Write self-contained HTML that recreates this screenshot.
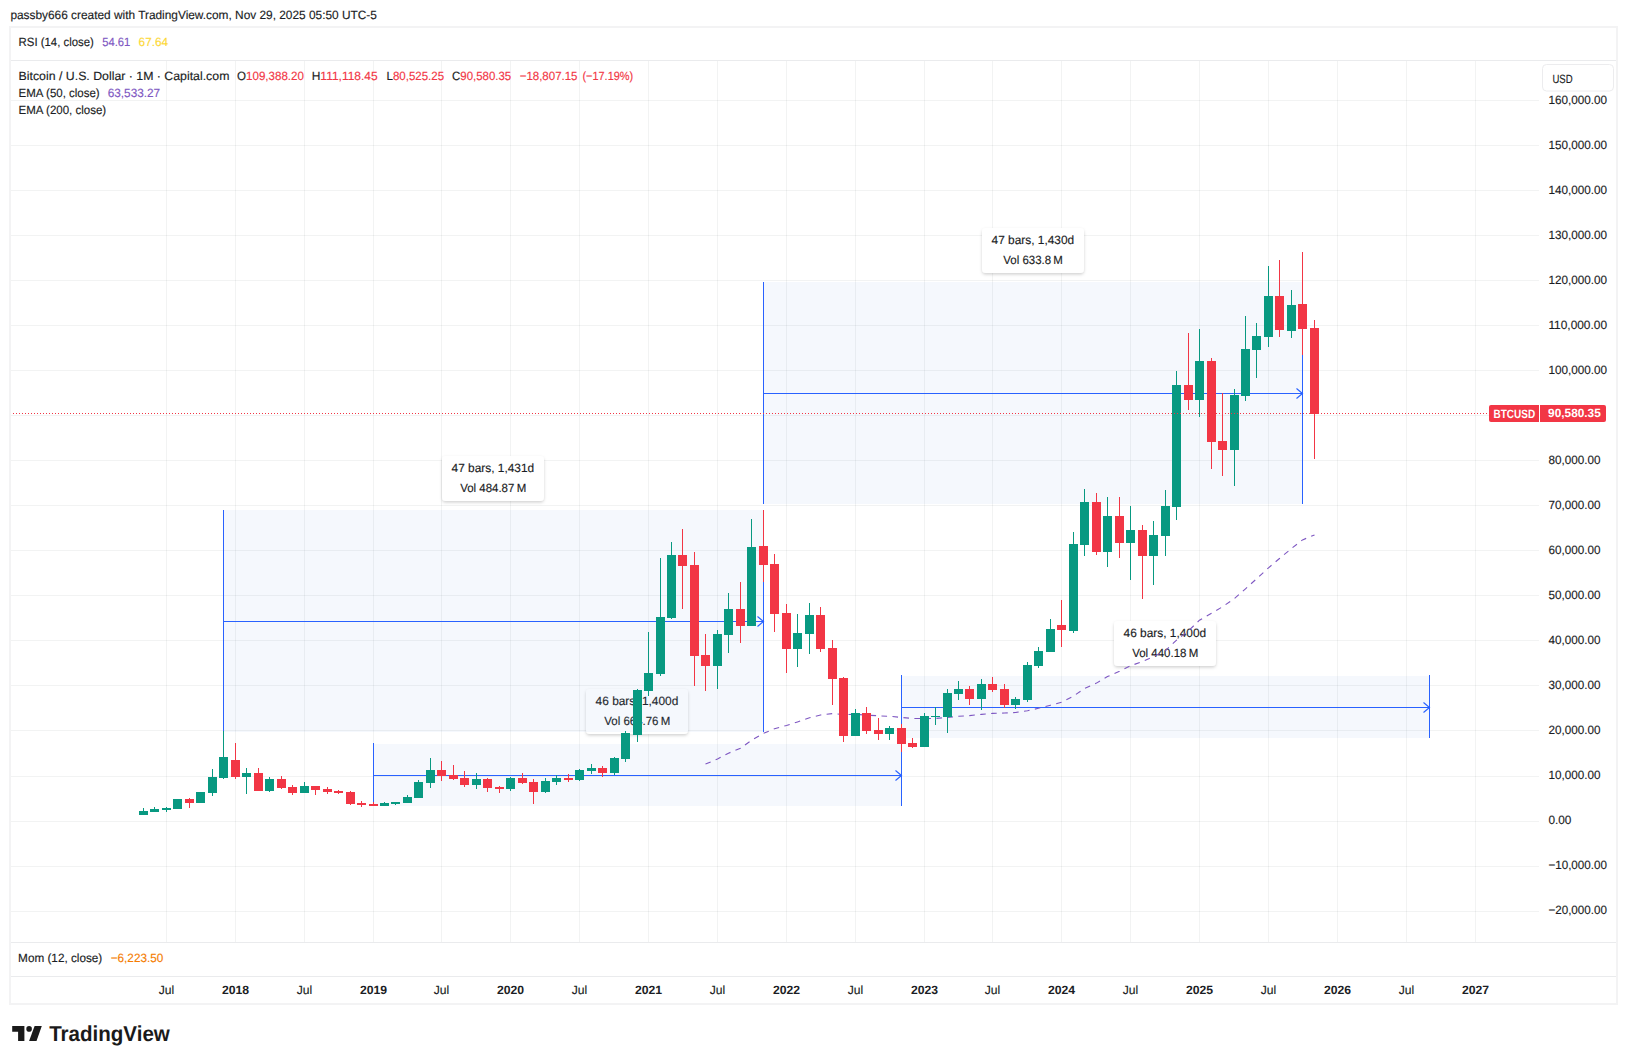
<!DOCTYPE html>
<html lang="en"><head><meta charset="utf-8"><title>BTCUSD chart</title>
<style>html,body{margin:0;padding:0;background:#fff}body{width:1627px;height:1064px;overflow:hidden}svg{display:block}</style>
</head><body>
<svg width="1627" height="1064" viewBox="0 0 1627 1064" font-family="'Liberation Sans', sans-serif" font-size="12" fill="#1b1d24" shape-rendering="crispEdges" text-rendering="geometricPrecision">
<defs><filter id="sh" x="-10%" y="-20%" width="120%" height="150%"><feDropShadow dx="0" dy="1.5" stdDeviation="1.6" flood-color="#000" flood-opacity="0.18"/></filter></defs>
<rect width="1627" height="1064" fill="#fff"/>
<path d="M166.5 61V942 M235.5 61V942 M304.5 61V942 M373.5 61V942 M441.5 61V942 M510.5 61V942 M579.5 61V942 M648.5 61V942 M717.5 61V942 M786.5 61V942 M855.5 61V942 M924.5 61V942 M992.5 61V942 M1061.5 61V942 M1130.5 61V942 M1199.5 61V942 M1268.5 61V942 M1337.5 61V942 M1406.5 61V942 M1475.5 61V942" stroke="#2a2e39" stroke-opacity="0.06" stroke-width="1" fill="none"/>
<path d="M11 911.5H1539 M11 866.5H1539 M11 821.5H1539 M11 776.5H1539 M11 730.5H1539 M11 685.5H1539 M11 640.5H1539 M11 595.5H1539 M11 550.5H1539 M11 505.5H1539 M11 460.5H1539 M11 415.5H1539 M11 370.5H1539 M11 325.5H1539 M11 280.5H1539 M11 235.5H1539 M11 190.5H1539 M11 145.5H1539 M11 100.5H1539" stroke="#2a2e39" stroke-opacity="0.06" stroke-width="1" fill="none"/>
<g>
<rect x="373" y="744" width="529" height="62" fill="rgb(100,150,230)" fill-opacity="0.065"/>
<path d="M373.5 743V806M901.5 743V806M373.5 775.5H901.5" stroke="#2962ff" stroke-width="1" fill="none"/>
<path d="M895.5 770.5L901.5 775.5L895.5 780.5" stroke="#2962ff" stroke-width="1.15" fill="none" shape-rendering="auto"/>
<rect x="586" y="689" width="102" height="45" rx="4" fill="#fff" filter="url(#sh)" shape-rendering="auto"/>
<text x="595.6" y="705" textLength="82.69999999999993" lengthAdjust="spacingAndGlyphs" stroke="#1b1d24" stroke-width="0.15" >46 bars, 1,400d</text>
<text x="604.3" y="724.7" textLength="66.0" lengthAdjust="spacingAndGlyphs" stroke="#1b1d24" stroke-width="0.15" >Vol 664.76 M</text>
</g>
<g>
<rect x="223" y="510" width="541" height="222" fill="rgb(100,150,230)" fill-opacity="0.065"/>
<path d="M223.5 510V732M763.5 510V732M223.5 621.5H763.5" stroke="#2962ff" stroke-width="1" fill="none"/>
<path d="M757.5 616.5L763.5 621.5L757.5 626.5" stroke="#2962ff" stroke-width="1.15" fill="none" shape-rendering="auto"/>
<rect x="442" y="456" width="102" height="45" rx="4" fill="#fff" filter="url(#sh)" shape-rendering="auto"/>
<text x="451.6" y="472" textLength="82.60000000000002" lengthAdjust="spacingAndGlyphs" stroke="#1b1d24" stroke-width="0.15" >47 bars, 1,431d</text>
<text x="460.2" y="491.7" textLength="66.00000000000006" lengthAdjust="spacingAndGlyphs" stroke="#1b1d24" stroke-width="0.15" >Vol 484.87 M</text>
</g>
<g>
<rect x="901" y="676" width="529" height="62" fill="rgb(100,150,230)" fill-opacity="0.065"/>
<path d="M901.5 675V738M1429.5 675V738M901.5 707.5H1429.5" stroke="#2962ff" stroke-width="1" fill="none"/>
<path d="M1423.5 702.5L1429.5 707.5L1423.5 712.5" stroke="#2962ff" stroke-width="1.15" fill="none" shape-rendering="auto"/>
<rect x="1114" y="621" width="102" height="45" rx="4" fill="#fff" filter="url(#sh)" shape-rendering="auto"/>
<text x="1123.6" y="637" textLength="82.60000000000014" lengthAdjust="spacingAndGlyphs" stroke="#1b1d24" stroke-width="0.15" >46 bars, 1,400d</text>
<text x="1132.2" y="656.7" textLength="66.09999999999991" lengthAdjust="spacingAndGlyphs" stroke="#1b1d24" stroke-width="0.15" >Vol 440.18 M</text>
</g>
<g>
<rect x="763" y="282" width="540" height="222" fill="rgb(100,150,230)" fill-opacity="0.065"/>
<path d="M763.5 282V504M1302.5 282V504M763.5 393.5H1302.5" stroke="#2962ff" stroke-width="1" fill="none"/>
<path d="M1296.5 388.5L1302.5 393.5L1296.5 398.5" stroke="#2962ff" stroke-width="1.15" fill="none" shape-rendering="auto"/>
<rect x="982" y="228" width="102" height="45" rx="4" fill="#fff" filter="url(#sh)" shape-rendering="auto"/>
<text x="991.6" y="244" textLength="82.60000000000002" lengthAdjust="spacingAndGlyphs" stroke="#1b1d24" stroke-width="0.15" >47 bars, 1,430d</text>
<text x="1003.3" y="263.7" textLength="59.600000000000136" lengthAdjust="spacingAndGlyphs" stroke="#1b1d24" stroke-width="0.15" >Vol 633.8 M</text>
</g>
<path d="M705.5 764.1 L717.5 759.0 L728.5 753.2 L740.5 748.2 L751.5 740.3 L763.5 733.4 L774.5 728.7 L786.5 725.5 L797.5 721.9 L809.5 717.8 L820.5 715.0 L832.5 713.6 L843.5 714.5 L855.5 714.4 L866.5 715.1 L878.5 715.8 L889.5 716.3 L901.5 717.4 L912.5 718.5 L924.5 718.5 L935.5 718.4 L947.5 717.4 L958.5 716.3 L969.5 715.6 L981.5 714.4 L992.5 713.4 L1004.5 713.0 L1015.5 712.5 L1027.5 710.7 L1038.5 708.3 L1050.5 705.2 L1061.5 702.3 L1073.5 696.1 L1084.5 688.5 L1096.5 683.1 L1107.5 676.6 L1119.5 671.3 L1130.5 665.8 L1142.5 661.5 L1153.5 656.5 L1165.5 650.6 L1176.5 640.2 L1188.5 630.8 L1199.5 620.2 L1211.5 613.2 L1222.5 606.8 L1234.5 598.5 L1245.5 588.8 L1256.5 578.9 L1268.5 567.8 L1279.5 558.5 L1291.5 548.5 L1302.5 539.9 L1314.5 534.9" stroke="#7e57c2" stroke-width="1.1" stroke-dasharray="5.6 5.4" fill="none" shape-rendering="auto"/>
<path d="M143 808h1V815h-1zM154 807h1V812h-1zM166 807h1V812h-1zM177 799h1V809h-1zM200 792h1V803h-1zM212 769h1V796h-1zM223 731h1V779h-1zM246 768h1V794h-1zM269 777h1V792h-1zM304 782h1V793h-1zM384 802h1V806h-1zM395 802h1V805h-1zM407 795h1V803h-1zM418 780h1V798h-1zM430 758h1V788h-1zM476 773h1V789h-1zM510 777h1V791h-1zM545 778h1V793h-1zM556 775h1V785h-1zM579 769h1V781h-1zM591 764h1V774h-1zM614 757h1V775h-1zM625 731h1V762h-1zM637 689h1V742h-1zM648 632h1V696h-1zM660 558h1V676h-1zM671 542h1V619h-1zM717 630h1V689h-1zM728 593h1V653h-1zM751 519h1V626h-1zM797 614h1V667h-1zM809 603h1V654h-1zM855 709h1V736h-1zM889 726h1V740h-1zM924 713h1V747h-1zM935 707h1V725h-1zM947 689h1V733h-1zM958 681h1V700h-1zM981 679h1V710h-1zM1015 697h1V709h-1zM1027 662h1V702h-1zM1038 647h1V668h-1zM1050 619h1V652h-1zM1073 532h1V633h-1zM1084 489h1V556h-1zM1107 497h1V567h-1zM1130 506h1V580h-1zM1153 521h1V585h-1zM1165 490h1V556h-1zM1176 371h1V520h-1zM1199 329h1V417h-1zM1234 389h1V486h-1zM1245 316h1V401h-1zM1256 323h1V378h-1zM1268 266h1V347h-1zM1291 290h1V338h-1zM139 811h9V815h-9zM150 809h9V812h-9zM162 808h9V810h-9zM173 799h9V809h-9zM196 792h9V803h-9zM208 777h9V793h-9zM219 757h9V778h-9zM242 773h9V777h-9zM265 779h9V791h-9zM300 786h9V793h-9zM380 803h9V806h-9zM391 802h9V804h-9zM403 797h9V803h-9zM414 782h9V798h-9zM426 770h9V783h-9zM472 779h9V785h-9zM506 778h9V789h-9zM541 781h9V792h-9zM552 778h9V782h-9zM575 770h9V780h-9zM587 768h9V771h-9zM610 758h9V773h-9zM621 733h9V759h-9zM633 690h9V735h-9zM644 673h9V691h-9zM656 617h9V674h-9zM667 555h9V618h-9zM713 634h9V666h-9zM724 609h9V635h-9zM747 547h9V626h-9zM793 633h9V649h-9zM805 615h9V634h-9zM851 713h9V736h-9zM885 728h9V734h-9zM920 716h9V747h-9zM931 716h9V717h-9zM943 693h9V717h-9zM954 689h9V694h-9zM977 684h9V699h-9zM1011 699h9V705h-9zM1023 665h9V700h-9zM1034 651h9V666h-9zM1046 629h9V652h-9zM1069 544h9V631h-9zM1080 502h9V545h-9zM1103 516h9V552h-9zM1126 530h9V543h-9zM1149 535h9V556h-9zM1161 506h9V536h-9zM1172 385h9V507h-9zM1195 361h9V400h-9zM1230 395h9V450h-9zM1241 349h9V396h-9zM1252 336h9V350h-9zM1264 296h9V337h-9zM1287 305h9V331h-9z" fill="#089981"/>
<path d="M189 798h1V808h-1zM235 743h1V779h-1zM258 768h1V791h-1zM281 776h1V789h-1zM292 785h1V795h-1zM315 786h1V795h-1zM327 787h1V794h-1zM338 790h1V794h-1zM350 791h1V805h-1zM361 801h1V807h-1zM373 802h1V806h-1zM441 761h1V781h-1zM453 765h1V780h-1zM464 771h1V787h-1zM487 778h1V792h-1zM499 786h1V793h-1zM522 773h1V784h-1zM533 779h1V804h-1zM568 774h1V782h-1zM602 766h1V777h-1zM682 529h1V609h-1zM694 552h1V686h-1zM705 634h1V691h-1zM740 582h1V643h-1zM763 510h1V582h-1zM774 554h1V632h-1zM786 604h1V673h-1zM820 607h1V652h-1zM832 640h1V705h-1zM843 677h1V742h-1zM866 707h1V734h-1zM878 718h1V740h-1zM901 724h1V752h-1zM912 738h1V748h-1zM969 686h1V705h-1zM992 677h1V692h-1zM1004 684h1V708h-1zM1061 600h1V647h-1zM1096 493h1V555h-1zM1119 497h1V558h-1zM1142 525h1V599h-1zM1188 333h1V410h-1zM1211 358h1V469h-1zM1222 393h1V476h-1zM1279 260h1V337h-1zM1302 252h1V355h-1zM1314 320h1V459h-1zM185 799h9V803h-9zM231 760h9V777h-9zM254 773h9V791h-9zM277 779h9V788h-9zM288 787h9V793h-9zM311 786h9V790h-9zM323 789h9V792h-9zM334 791h9V793h-9zM346 792h9V804h-9zM357 803h9V805h-9zM369 804h9V806h-9zM437 770h9V776h-9zM449 775h9V779h-9zM460 778h9V785h-9zM483 779h9V788h-9zM495 787h9V789h-9zM518 778h9V783h-9zM529 782h9V792h-9zM564 778h9V780h-9zM598 768h9V773h-9zM678 555h9V566h-9zM690 565h9V656h-9zM701 655h9V666h-9zM736 609h9V626h-9zM759 546h9V565h-9zM770 564h9V614h-9zM782 613h9V649h-9zM816 615h9V649h-9zM828 648h9V679h-9zM839 678h9V736h-9zM862 713h9V731h-9zM874 730h9V734h-9zM897 728h9V744h-9zM908 743h9V747h-9zM965 689h9V699h-9zM988 684h9V690h-9zM1000 689h9V705h-9zM1057 625h9V630h-9zM1092 502h9V552h-9zM1115 516h9V543h-9zM1138 530h9V556h-9zM1184 385h9V400h-9zM1207 361h9V442h-9zM1218 441h9V450h-9zM1275 296h9V330h-9zM1298 304h9V329h-9zM1310 328h9V414h-9z" fill="#f23645"/>
<path d="M10 413.5H1487" stroke="#f23645" stroke-width="1" stroke-dasharray="1 2" fill="none"/>
<path d="M1491 405h48v17h-48a2 2 0 0 1-2-2v-13a2 2 0 0 1 2-2z" fill="#f23645" shape-rendering="auto"/>
<path d="M1540 405h64a2 2 0 0 1 2 2v13a2 2 0 0 1-2 2h-64z" fill="#f23645" shape-rendering="auto"/>
<text x="1493.5" y="417.5" textLength="41.6" lengthAdjust="spacingAndGlyphs" fill="#fff" font-weight="bold" >BTCUSD</text>
<text x="1548.1" y="417" textLength="52.7" lengthAdjust="spacingAndGlyphs" fill="#fff" font-weight="bold" >90,580.35</text>
<path d="M9 26h1609v979h-1609zM11 28v975h1605v-975z" fill="#f3f3f4" fill-rule="evenodd"/>
<path d="M11 60.5H1616M11 942.5H1616M11 976.5H1616" stroke="#eaebed" stroke-width="1" fill="none"/>
<text x="1548.4" y="914.44" textLength="58.6" lengthAdjust="spacingAndGlyphs" stroke="#1b1d24" stroke-width="0.15" >−20,000.00</text>
<text x="1548.4" y="869.41" textLength="58.6" lengthAdjust="spacingAndGlyphs" stroke="#1b1d24" stroke-width="0.15" >−10,000.00</text>
<text x="1548.4" y="824.38" textLength="23" lengthAdjust="spacingAndGlyphs" stroke="#1b1d24" stroke-width="0.15" >0.00</text>
<text x="1548.4" y="779.35" textLength="52" lengthAdjust="spacingAndGlyphs" stroke="#1b1d24" stroke-width="0.15" >10,000.00</text>
<text x="1548.4" y="734.32" textLength="52" lengthAdjust="spacingAndGlyphs" stroke="#1b1d24" stroke-width="0.15" >20,000.00</text>
<text x="1548.4" y="689.29" textLength="52" lengthAdjust="spacingAndGlyphs" stroke="#1b1d24" stroke-width="0.15" >30,000.00</text>
<text x="1548.4" y="644.26" textLength="52" lengthAdjust="spacingAndGlyphs" stroke="#1b1d24" stroke-width="0.15" >40,000.00</text>
<text x="1548.4" y="599.23" textLength="52" lengthAdjust="spacingAndGlyphs" stroke="#1b1d24" stroke-width="0.15" >50,000.00</text>
<text x="1548.4" y="554.20" textLength="52" lengthAdjust="spacingAndGlyphs" stroke="#1b1d24" stroke-width="0.15" >60,000.00</text>
<text x="1548.4" y="509.17" textLength="52" lengthAdjust="spacingAndGlyphs" stroke="#1b1d24" stroke-width="0.15" >70,000.00</text>
<text x="1548.4" y="464.14" textLength="52" lengthAdjust="spacingAndGlyphs" stroke="#1b1d24" stroke-width="0.15" >80,000.00</text>
<text x="1548.4" y="374.08" textLength="58.6" lengthAdjust="spacingAndGlyphs" stroke="#1b1d24" stroke-width="0.15" >100,000.00</text>
<text x="1548.4" y="329.05" textLength="58.6" lengthAdjust="spacingAndGlyphs" stroke="#1b1d24" stroke-width="0.15" >110,000.00</text>
<text x="1548.4" y="284.02" textLength="58.6" lengthAdjust="spacingAndGlyphs" stroke="#1b1d24" stroke-width="0.15" >120,000.00</text>
<text x="1548.4" y="238.99" textLength="58.6" lengthAdjust="spacingAndGlyphs" stroke="#1b1d24" stroke-width="0.15" >130,000.00</text>
<text x="1548.4" y="193.96" textLength="58.6" lengthAdjust="spacingAndGlyphs" stroke="#1b1d24" stroke-width="0.15" >140,000.00</text>
<text x="1548.4" y="148.93" textLength="58.6" lengthAdjust="spacingAndGlyphs" stroke="#1b1d24" stroke-width="0.15" >150,000.00</text>
<text x="1548.4" y="103.90" textLength="58.6" lengthAdjust="spacingAndGlyphs" stroke="#1b1d24" stroke-width="0.15" >160,000.00</text>
<rect x="1542.5" y="64.5" width="71" height="26.5" rx="4" fill="#fff" stroke="#ececee" stroke-width="1" shape-rendering="auto"/>
<text x="1552.4" y="82.7" textLength="20.2" lengthAdjust="spacingAndGlyphs" stroke="#1b1d24" stroke-width="0.15" >USD</text>
<text x="10.4" y="19" textLength="366.5" lengthAdjust="spacingAndGlyphs" stroke="#1b1d24" stroke-width="0.15" >passby666 created with TradingView.com, Nov 29, 2025 05:50 UTC-5</text>
<text x="18.6" y="46" textLength="75.2" lengthAdjust="spacingAndGlyphs" stroke="#1b1d24" stroke-width="0.15" >RSI (14, close)</text>
<text x="102.2" y="46" textLength="28" lengthAdjust="spacingAndGlyphs" fill="#7e57c2" stroke="#7e57c2" stroke-width="0.15" >54.61</text>
<text x="138.6" y="46" textLength="29.5" lengthAdjust="spacingAndGlyphs" fill="#fdd835" stroke="#fdd835" stroke-width="0.15" >67.64</text>
<text x="18.6" y="80" textLength="210.8" lengthAdjust="spacingAndGlyphs" stroke="#1b1d24" stroke-width="0.15" >Bitcoin / U.S. Dollar · 1M · Capital.com</text>
<text x="237.1" y="80" textLength="66.8" lengthAdjust="spacingAndGlyphs" stroke="#1b1d24" stroke-width="0.15">O<tspan fill="#f23645" stroke="#f23645">109,388.20</tspan></text>
<text x="311.7" y="80" textLength="66.0" lengthAdjust="spacingAndGlyphs" stroke="#1b1d24" stroke-width="0.15">H<tspan fill="#f23645" stroke="#f23645">111,118.45</tspan></text>
<text x="386.5" y="80" textLength="57.6" lengthAdjust="spacingAndGlyphs" stroke="#1b1d24" stroke-width="0.15">L<tspan fill="#f23645" stroke="#f23645">80,525.25</tspan></text>
<text x="452.1" y="80" textLength="59.1" lengthAdjust="spacingAndGlyphs" stroke="#1b1d24" stroke-width="0.15">C<tspan fill="#f23645" stroke="#f23645">90,580.35</tspan></text>
<text x="519.7" y="80" textLength="57.8" lengthAdjust="spacingAndGlyphs" fill="#f23645" stroke="#f23645" stroke-width="0.15" >−18,807.15</text>
<text x="582.4" y="80" textLength="50.8" lengthAdjust="spacingAndGlyphs" fill="#f23645" stroke="#f23645" stroke-width="0.15" >(−17.19%)</text>
<text x="18.6" y="97" textLength="81.1" lengthAdjust="spacingAndGlyphs" stroke="#1b1d24" stroke-width="0.15" >EMA (50, close)</text>
<text x="107.7" y="97" textLength="52.5" lengthAdjust="spacingAndGlyphs" fill="#7e57c2" stroke="#7e57c2" stroke-width="0.15" >63,533.27</text>
<text x="18.6" y="114" textLength="87.6" lengthAdjust="spacingAndGlyphs" stroke="#1b1d24" stroke-width="0.15" >EMA (200, close)</text>
<text x="18.1" y="962" textLength="84.2" lengthAdjust="spacingAndGlyphs" stroke="#1b1d24" stroke-width="0.15" >Mom (12, close)</text>
<text x="110.7" y="962" textLength="52.6" lengthAdjust="spacingAndGlyphs" fill="#f57c00" stroke="#f57c00" stroke-width="0.15" >−6,223.50</text>
<text x="166.5" y="994" textLength="15.5" lengthAdjust="spacingAndGlyphs" stroke="#1b1d24" stroke-width="0.15" text-anchor="middle" >Jul</text>
<text x="235.5" y="994" textLength="27.2" lengthAdjust="spacingAndGlyphs" font-weight="bold" text-anchor="middle" >2018</text>
<text x="304.5" y="994" textLength="15.5" lengthAdjust="spacingAndGlyphs" stroke="#1b1d24" stroke-width="0.15" text-anchor="middle" >Jul</text>
<text x="373.5" y="994" textLength="27.2" lengthAdjust="spacingAndGlyphs" font-weight="bold" text-anchor="middle" >2019</text>
<text x="441.5" y="994" textLength="15.5" lengthAdjust="spacingAndGlyphs" stroke="#1b1d24" stroke-width="0.15" text-anchor="middle" >Jul</text>
<text x="510.5" y="994" textLength="27.2" lengthAdjust="spacingAndGlyphs" font-weight="bold" text-anchor="middle" >2020</text>
<text x="579.5" y="994" textLength="15.5" lengthAdjust="spacingAndGlyphs" stroke="#1b1d24" stroke-width="0.15" text-anchor="middle" >Jul</text>
<text x="648.5" y="994" textLength="27.2" lengthAdjust="spacingAndGlyphs" font-weight="bold" text-anchor="middle" >2021</text>
<text x="717.5" y="994" textLength="15.5" lengthAdjust="spacingAndGlyphs" stroke="#1b1d24" stroke-width="0.15" text-anchor="middle" >Jul</text>
<text x="786.5" y="994" textLength="27.2" lengthAdjust="spacingAndGlyphs" font-weight="bold" text-anchor="middle" >2022</text>
<text x="855.5" y="994" textLength="15.5" lengthAdjust="spacingAndGlyphs" stroke="#1b1d24" stroke-width="0.15" text-anchor="middle" >Jul</text>
<text x="924.5" y="994" textLength="27.2" lengthAdjust="spacingAndGlyphs" font-weight="bold" text-anchor="middle" >2023</text>
<text x="992.5" y="994" textLength="15.5" lengthAdjust="spacingAndGlyphs" stroke="#1b1d24" stroke-width="0.15" text-anchor="middle" >Jul</text>
<text x="1061.5" y="994" textLength="27.2" lengthAdjust="spacingAndGlyphs" font-weight="bold" text-anchor="middle" >2024</text>
<text x="1130.5" y="994" textLength="15.5" lengthAdjust="spacingAndGlyphs" stroke="#1b1d24" stroke-width="0.15" text-anchor="middle" >Jul</text>
<text x="1199.5" y="994" textLength="27.2" lengthAdjust="spacingAndGlyphs" font-weight="bold" text-anchor="middle" >2025</text>
<text x="1268.5" y="994" textLength="15.5" lengthAdjust="spacingAndGlyphs" stroke="#1b1d24" stroke-width="0.15" text-anchor="middle" >Jul</text>
<text x="1337.5" y="994" textLength="27.2" lengthAdjust="spacingAndGlyphs" font-weight="bold" text-anchor="middle" >2026</text>
<text x="1406.5" y="994" textLength="15.5" lengthAdjust="spacingAndGlyphs" stroke="#1b1d24" stroke-width="0.15" text-anchor="middle" >Jul</text>
<text x="1475.5" y="994" textLength="27.2" lengthAdjust="spacingAndGlyphs" font-weight="bold" text-anchor="middle" >2027</text>
<g fill="#1a1a1a" shape-rendering="auto"><path d="M12.2 1026.1h12.2v14.9h-6.3v-9.2h-5.9z"/><circle cx="29.1" cy="1028.9" r="2.8"/><path d="M34.6 1026.1h7.2l-5.3 14.9h-7.4z"/></g>
<text x="49.2" y="1041" textLength="120.6" lengthAdjust="spacingAndGlyphs" fill="#1a1a1a" font-weight="bold" font-size="21.6" >TradingView</text>
</svg>
</body></html>
